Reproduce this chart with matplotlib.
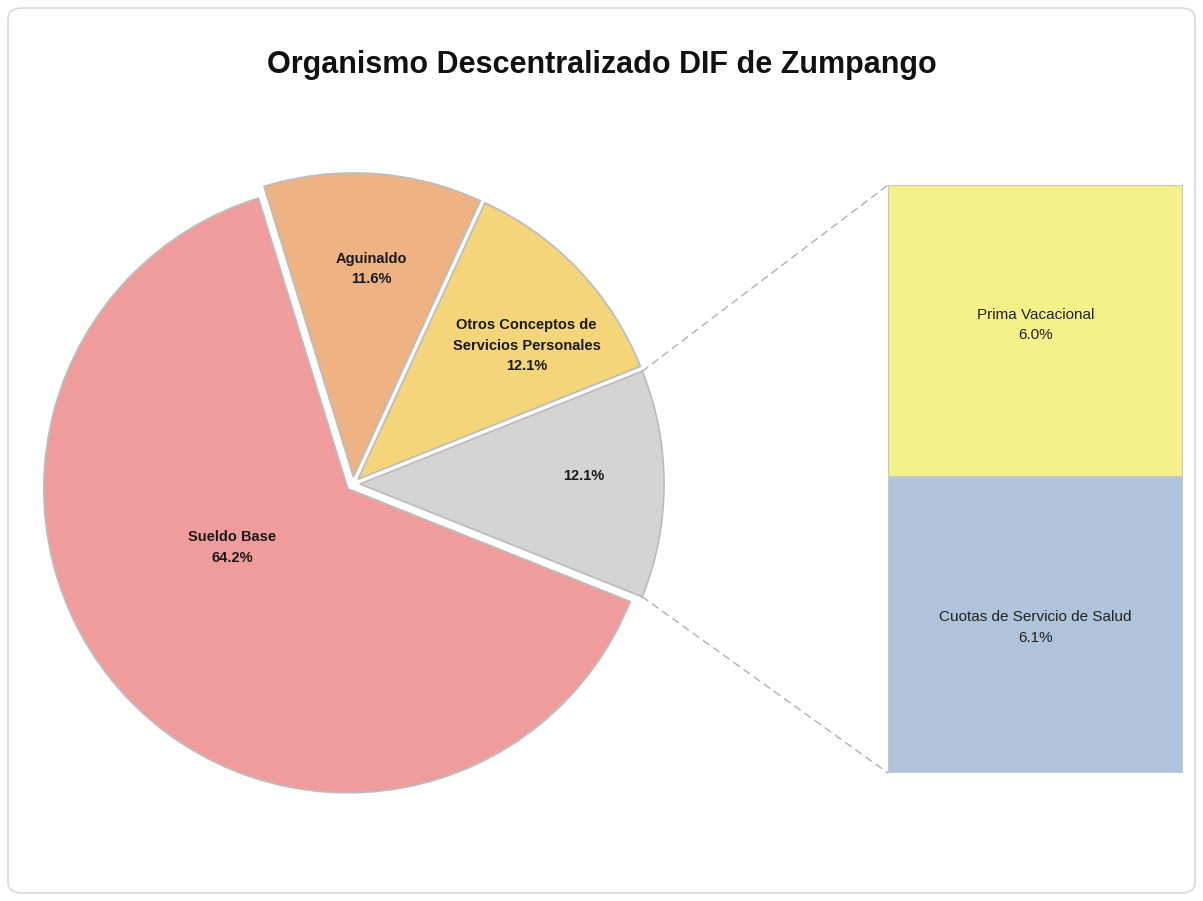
import numpy as np
import matplotlib
matplotlib.use("Agg")
import matplotlib.pyplot as plt
from matplotlib.patches import FancyBboxPatch, ConnectionPatch

plt.rcParams['font.family'] = ['Liberation Sans', 'DejaVu Sans']

# pie data (counter-clockwise, starting at the "other" slice)
pie_labels = ["", "Otros Conceptos de\nServicios Personales", "Aguinaldo", "Sueldo Base"]
pie_values = [12.1, 12.1, 11.6, 64.2]
pie_colors = ['#d4d4d4', '#f5d57a', '#eeb283', '#f19c9c']

# breakdown of the "other" slice
bar_labels = ["Cuotas de Servicio de Salud", "Prima Vacacional"]
bar_values = [6.1, 6.0]
bar_colors = ['#afc3da', '#f4f08a']

title = "Organismo Descentralizado DIF de Zumpango"

W, H = 1203, 901
fig = plt.figure(figsize=(W / 100, H / 100), dpi=100)

# rounded frame
frame = FancyBboxPatch((8 / W, 8 / H), 1 - 16 / W, 1 - 16 / H,
                       boxstyle="round,pad=0,rounding_size=0.012",
                       transform=fig.transFigure, facecolor='none',
                       edgecolor='#d9d9d9', linewidth=1.2, zorder=-10)
fig.patches.append(frame)

fig.text(0.5, 1 - 65 / H, title, ha='center', va='center',
         fontsize=22, fontweight='bold', color='#111111')

# pie axes in pixel-like units
ax = fig.add_axes([0, 0, 1, 1])
ax.patch.set_alpha(0)

cx, cy, r = 353, H - 484, 304
start = -360 * pie_values[0] / 100 / 2
explode = [7] * len(pie_values)   # offset in pixel units here
wedges, _ = ax.pie(pie_values, colors=pie_colors, startangle=start,
                   counterclock=True, center=(cx, cy), radius=r,
                   explode=explode, frame=True,
                   wedgeprops=dict(edgecolor='#bdbdbd', linewidth=1.3))
ax.set_xlim(0, W)
ax.set_ylim(0, H)
ax.set_aspect('equal')
ax.axis('off')

# label placement: radial fraction and angle shift (degrees)
lab_r = [0.76, 0.73, 0.71, 0.45]
lab_shift = [2, -5, -1, -15]
for w, lab, val, lr, sh in zip(wedges, pie_labels, pie_values, lab_r, lab_shift):
    mid = np.deg2rad((w.theta1 + w.theta2) / 2 + sh)
    x = cx + lr * r * np.cos(mid)
    y = cy + lr * r * np.sin(mid)
    txt = f"{lab}\n{val:.1f}%" if lab else f"{val:.1f}%"
    ax.text(x, y, txt, ha='center', va='center', fontsize=10.5,
            fontweight='bold', color='#1a1a1a', linespacing=1.6)

# stacked bar for the breakdown
bx0, by0, bx1, by1 = 888, 185, 1183, 773
bax = fig.add_axes([bx0 / W, 1 - by1 / H, (bx1 - bx0) / W, (by1 - by0) / H])
text_pos = [0.49, 0.52]
bottom = 0
for lab, val, col, tp in zip(bar_labels, bar_values, bar_colors, text_pos):
    bax.bar(0, val, bottom=bottom, width=1, color=col,
            edgecolor='#c8c8c8', linewidth=1.5)
    bax.text(0, bottom + val * tp, f"{lab}\n{val:.1f}%", ha='center',
             va='center', fontsize=11, color='#222222', linespacing=1.6)
    bottom += val
bax.set_xlim(-0.5, 0.5)
bax.set_ylim(0, sum(bar_values))
bax.axis('off')

# connector lines from the "other" slice to the bar
g = wedges[0]
gcx, gcy = g.center
for ang, yb in [(g.theta2, 1), (g.theta1, 0)]:
    a = np.deg2rad(ang)
    p = (gcx + r * np.cos(a), gcy + r * np.sin(a))
    con = ConnectionPatch(xyA=p, coordsA=ax.transData, xyB=(0, yb),
                          coordsB=bax.transAxes, color='#b0b0b0',
                          linestyle=(0, (5, 4)), linewidth=1)
    fig.add_artist(con)

fig.savefig("out.png", dpi=100)
